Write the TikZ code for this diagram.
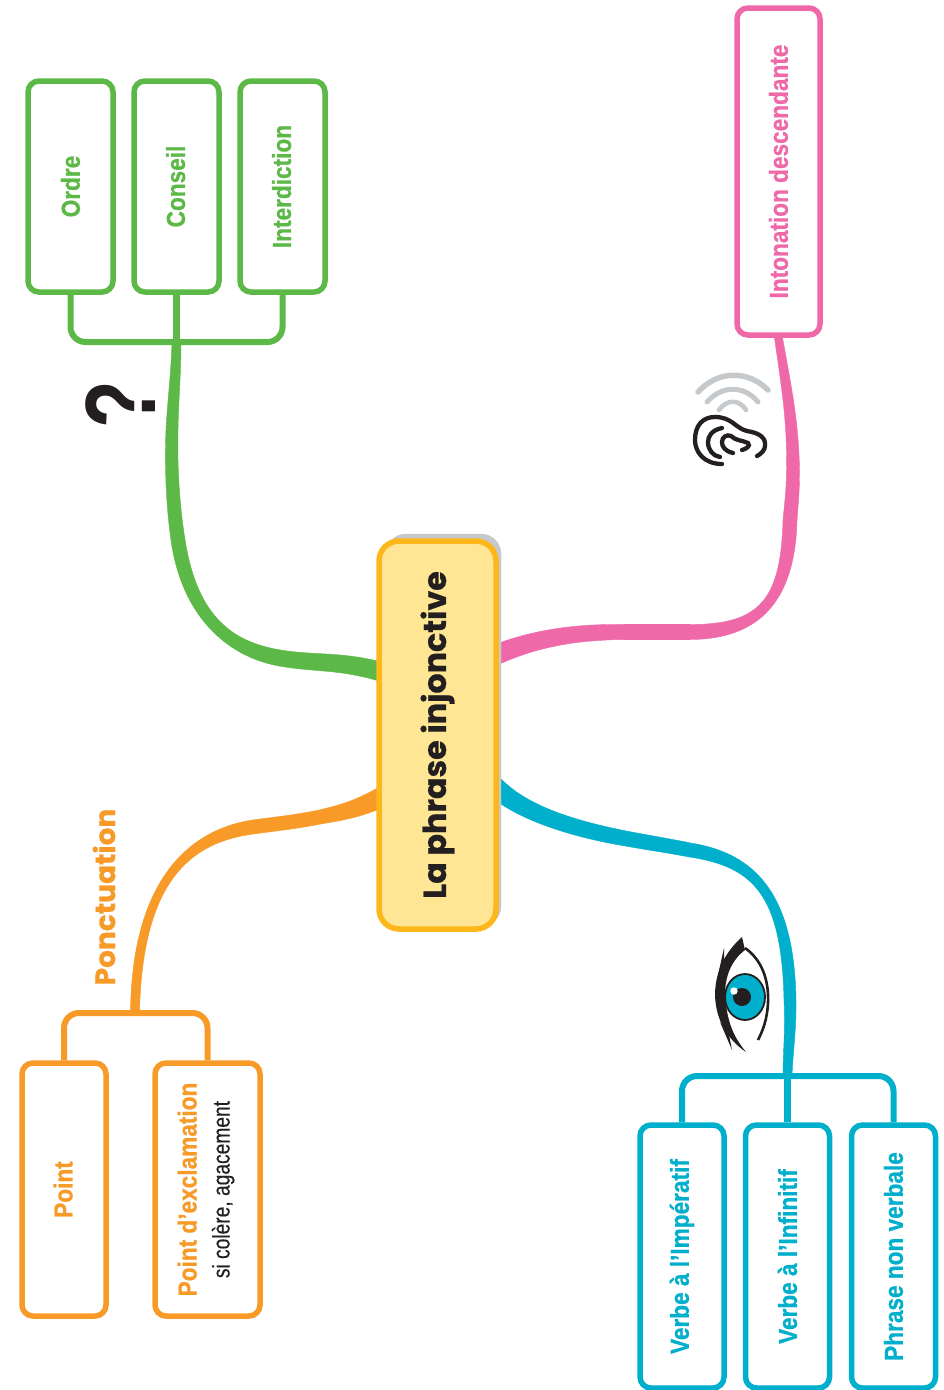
\documentclass[tikz,border=0pt]{standalone}
\usepackage{fontspec}
\usepackage{graphicx}
\setmainfont{Liberation Sans}
\newfontfamily\narrowf[FakeStretch=0.87,BoldFeatures={FakeBold=0.8}]{Liberation Sans}
\newfontfamily\narrowg[FakeStretch=0.8,FakeBold=0.3]{Liberation Sans}
\newfontfamily\qmf[FakeStretch=0.78]{Liberation Sans}
\newfontfamily\popf[BoldFeatures={FakeBold=0.6}]{Poppins}
\usetikzlibrary{calc}
\definecolor{cgreen}{HTML}{5CB947}
\definecolor{cpink}{HTML}{EF69A8}
\definecolor{cblue}{HTML}{00AFCB}
\definecolor{corange}{HTML}{F79A28}
\definecolor{cyel}{HTML}{FDB71A}
\definecolor{cyelf}{HTML}{FFE695}
\definecolor{cgrey}{HTML}{C6C9CC}
\definecolor{cink}{HTML}{231F20}
\tikzset{
 x=1pt,y=-1pt,
 leaf/.style={draw=#1,line width=5.5pt,fill=white,rounded corners=11pt,inner sep=0pt,text=#1,
   font=\narrowf\fontsize{26}{26}\selectfont\bfseries},
 tree/.style={draw=#1,line width=6pt,rounded corners=15pt},
 stem/.style={draw=#1,line width=7pt},
 earline/.style={draw=cink,line width=4.3pt,line cap=round},
 waveline/.style={draw=cgrey,line cap=round},
}
\newcommand{\upt}[1]{\rotatebox{90}{#1}}
% tapered connector piece: colour, four points of the curve, start width, end width
\newcommand{\taper}[7]{%
 \pgfmathsetmacro{\ha}{(#6)/2}\pgfmathsetmacro{\hb}{(2*(#6)+(#7))/6}%
 \pgfmathsetmacro{\hc}{((#6)+2*(#7))/6}\pgfmathsetmacro{\hd}{(#7)/2}%
 \coordinate (q0) at #2;\coordinate (q1) at #3;\coordinate (q2) at #4;\coordinate (q3) at #5;%
 \draw[#1,fill=#1,line width=0.4pt]
  ($(q0)!\ha pt!90:(q1)$) .. controls ($(q1)!\hb pt!-90:(q0)$) and ($(q2)!\hc pt!90:(q3)$) .. ($(q3)!\hd pt!-90:(q2)$)
  -- ($(q3)!\hd pt!90:(q2)$) .. controls ($(q2)!\hc pt!-90:(q3)$) and ($(q1)!\hb pt!90:(q0)$) .. ($(q0)!\ha pt!-90:(q1)$) -- cycle;}
\begin{document}
\begin{tikzpicture}
\useasboundingbox (0,0) rectangle (943,1390);
% leaf boxes
\node[leaf=cgreen,minimum width=85pt,minimum height=211pt] (ordre) at (70.5,186.5) {\upt{Ordre}};
\node[leaf=cgreen,minimum width=85pt,minimum height=211pt] (conseil) at (176.5,186.5) {\upt{\raisebox{2pt}{Conseil}}};
\node[leaf=cgreen,minimum width=85pt,minimum height=211pt] (interd) at (282.5,186.5) {\upt{\raisebox{2pt}{Interdiction}}};
\node[leaf=cpink,minimum width=83pt,minimum height=327pt] (inton) at (778.5,171.5) {\upt{Intonation descendante}};
\node[leaf=corange,minimum width=84pt,minimum height=253pt] (point) at (64,1189.5) {\upt{\raisebox{2pt}{Point}}};
\node[leaf=corange,minimum width=105pt,minimum height=253pt] (exclam) at (207.5,1189.5) {\upt{\raisebox{-2pt}{\begin{tabular}{@{}c@{}}Point d’exclamation\\[7pt]{\narrowg\fontsize{24}{24}\selectfont\mdseries\color{cink}si colère, agacement}\end{tabular}}}};
\node[leaf=cblue,minimum width=84pt,minimum height=263pt] (imper) at (682,1256.5) {\upt{\raisebox{-2pt}{Verbe à l’Impératif}}};
\node[leaf=cblue,minimum width=84pt,minimum height=263pt] (infin) at (787.5,1256.5) {\upt{Verbe à l’Infinitif}};
\node[leaf=cblue,minimum width=84pt,minimum height=263pt] (nonverb) at (893.5,1256.5) {\upt{Phrase non verbale}};
% brackets
\coordinate (gj) at (176.5,342);
\coordinate (bj) at (787.5,1076);
\coordinate (oj) at (135,1013);
\draw[tree=cgreen] (ordre.south) -- (ordre.south |- gj) -- (interd.south |- gj) -- (interd.south);
\draw[stem=cgreen] (conseil.south) -- (gj);
\draw[tree=cblue] (imper.north) -- (imper.north |- bj) -- (nonverb.north |- bj) -- (nonverb.north);
\draw[stem=cblue] (infin.north) -- (bj);
\draw[tree=corange] (point.north) -- (point.north |- oj) -- (exclam.north |- oj) -- (exclam.north);
% hub start points
\coordinate (gs) at (382,672);
\coordinate (ps) at (493,656);
\coordinate (bs) at (493,785);
\coordinate (os) at (382,797);
% tapered limbs
\taper{cgreen}{(gs)}{(340,660)}{(315,664)}{(280,658)}{19}{16}
\taper{cgreen}{(280,658)}{(233,650)}{(190,620)}{(178,540)}{16}{14}
\taper{cgreen}{(178,540)}{(172,500)}{(171,460)}{(172,430)}{14}{12}
\taper{cgreen}{(172,430)}{(173,400)}{(176,375)}{(gj)}{12}{9}
\taper{cpink}{(ps)}{(530,640)}{(570,632)}{(623,632)}{20}{15}
\taper{cpink}{(623,632)}{(645,632)}{(670,632)}{(690,632)}{15}{15}
\taper{cpink}{(690,632)}{(760,632)}{(788,600)}{(790,520)}{15}{14}
\taper{cpink}{(790,520)}{(791.5,503)}{(793,490)}{(793,470)}{14}{13}
\taper{cpink}{(793,470)}{(793,420)}{(786,385)}{(inton.south)}{13}{8}
\taper{cblue}{(bs)}{(520,812)}{(570,828)}{(623,838)}{20}{15}
\taper{cblue}{(623,838)}{(650,843)}{(670,846)}{(690,850)}{15}{14}
\taper{cblue}{(690,850)}{(755,860)}{(788,895)}{(790,1000)}{14}{12}
\taper{cblue}{(790,1000)}{(791,1030)}{(788,1050)}{(bj)}{12}{9}
\taper{corange}{(os)}{(360,808)}{(345,812)}{(320,817)}{20}{14}
\taper{corange}{(320,817)}{(295,822)}{(275,824)}{(253,827)}{14}{14}
\taper{corange}{(253,827)}{(190,836)}{(137,880)}{(oj)}{14}{9}
% hub
\draw[cgrey,fill=cgrey,rounded corners=20pt] (386,534) rectangle (501,926);
\node[draw=cyel,fill=cyelf,line width=5.5pt,rounded corners=20pt,minimum width=117pt,minimum height=388pt,inner sep=0pt,font=\popf\bfseries\fontsize{31.7}{32}\selectfont,text=cink] (hub) at (437.5,735) {\upt{La phrase injonctive}};
% labels
\node[font=\popf\bfseries\fontsize{28}{28}\selectfont,text=corange,inner sep=0pt] (ponct) at (104,897) {\upt{Ponctuation}};
\node[font=\qmf\bfseries\fontsize{100}{100}\selectfont,text=cink,inner sep=0pt] (qm) at (121,405) {\upt{?}};
% ear
\draw[waveline,line width=5.5pt] (698,392) .. controls (718,370) and (748,370) .. (768,390);
\draw[waveline,line width=5pt] (707,402) .. controls (722,385) and (744,385) .. (758,402);
\draw[waveline,line width=4.5pt] (719,410) .. controls (727,399) and (739,399) .. (746,410);
\draw[earline] (722,464) .. controls (704,464) and (695,452) .. (695,440) .. controls (695,425) and (703,417) .. (715,417) .. controls (732,417) and (735,428) .. (747,431) .. controls (760,433) and (766,438) .. (765,446) .. controls (765,450) and (761,454) .. (757,456);
\draw[earline] (722,428) .. controls (712,430) and (708,436) .. (708,442) .. controls (708,450) and (713,456) .. (720,457);
\draw[earline] (733,453) .. controls (725,451) and (722,447) .. (722,442) .. controls (722,437) and (727,434) .. (731,436) .. controls (736,441) and (742,440) .. (748,443) .. controls (751,446) and (746,449) .. (742,450);
% eye
\fill[cink] (742,937) .. controls (730,948) and (716,965) .. (715,993) .. controls (715,1020) and (728,1040) .. (746,1052) .. controls (732,1035) and (727,1020) .. (725,995) .. controls (725,975) and (732,960) .. (745,950) -- cycle;
\fill[cink] (724,948) -- (718,975) -- (724,965) -- cycle;
\fill[cink] (720,1022) -- (732,1050) -- (728,1030) -- cycle;
\draw[cink,line width=2.6pt] (745,948) .. controls (762,960) and (769,980) .. (768,1003) .. controls (767,1020) and (763,1030) .. (758,1040);
\draw[cink,line width=1.8pt,fill=cblue] (745,997) ellipse [x radius=20pt,y radius=23pt];
\fill[cink] (742,997) circle [radius=9pt];
\fill[white] (734,991) circle [radius=3.7pt];
\end{tikzpicture}
\end{document}
